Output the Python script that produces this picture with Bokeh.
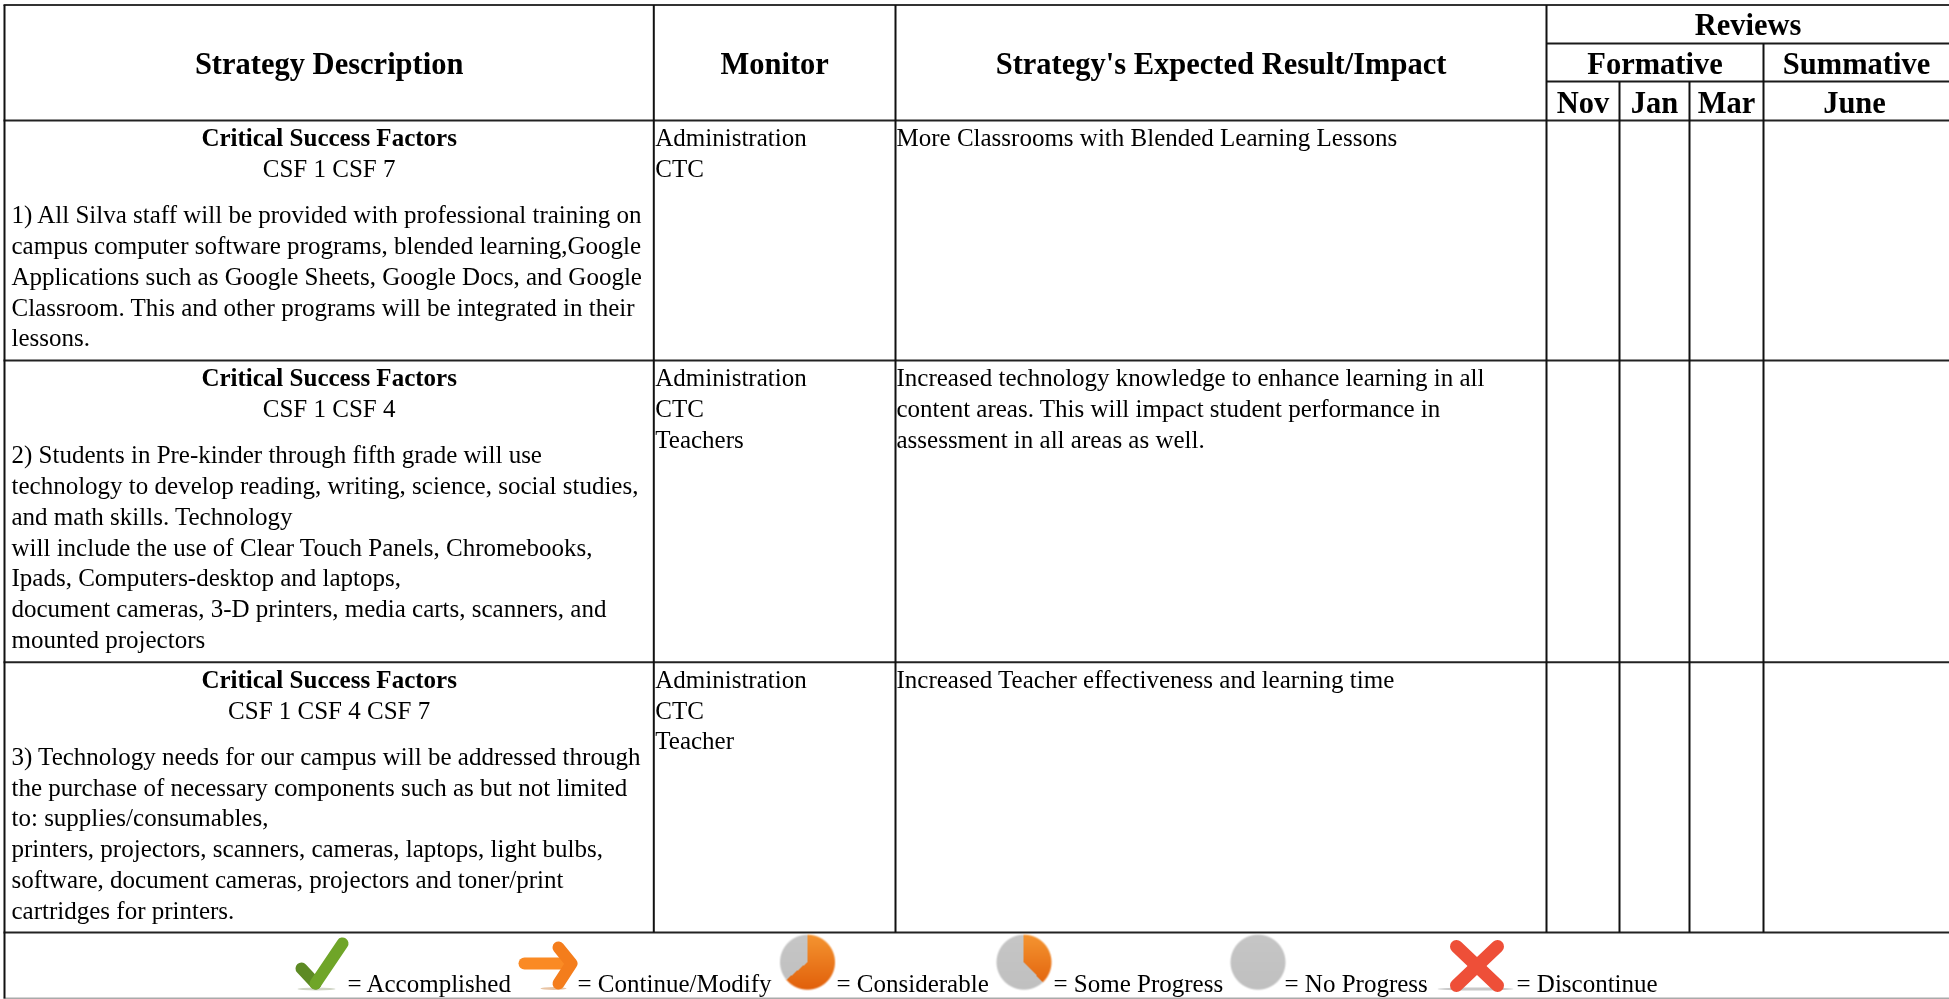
import numpy as np
from bokeh.plotting import figure
from bokeh.embed import file_html
from bokeh.resources import INLINE
from bokeh.core.properties import value

# ---- table content ----
header_main = ["Strategy Description", "Monitor", "Strategy's Expected Result/Impact"]
header_reviews = "Reviews"
header_groups = ["Formative", "Summative"]
header_months = ["Nov", "Jan", "Mar", "June"]
csf_title = "Critical Success Factors"
csf_codes = ["CSF 1 CSF 7", "CSF 1 CSF 4", "CSF 1 CSF 4 CSF 7"]
strategies = [
    ["1) All Silva staff will be provided with professional training on",
     "campus computer software programs, blended learning,Google",
     "Applications such as Google Sheets, Google Docs, and Google",
     "Classroom. This and other programs will be integrated in their",
     "lessons."],
    ["2) Students in Pre-kinder through fifth grade will use",
     "technology to develop reading, writing, science, social studies,",
     "and math skills. Technology",
     "will include the use of Clear Touch Panels, Chromebooks,",
     "Ipads, Computers-desktop and laptops,",
     "document cameras, 3-D printers, media carts, scanners, and",
     "mounted projectors"],
    ["3) Technology needs for our campus will be addressed through",
     "the purchase of necessary components such as but not limited",
     "to: supplies/consumables,",
     "printers, projectors, scanners, cameras, laptops, light bulbs,",
     "software, document cameras, projectors and toner/print",
     "cartridges for printers."],
]
monitors = [["Administration", "CTC"],
            ["Administration", "CTC", "Teachers"],
            ["Administration", "CTC", "Teacher"]]
results = [["More Classrooms with Blended Learning Lessons"],
           ["Increased technology knowledge to enhance learning in all",
            "content areas. This will impact student performance in",
            "assessment in all areas as well."],
           ["Increased Teacher effectiveness and learning time"]]
legend_labels = ["= Accomplished", "= Continue/Modify", "= Considerable",
                 "= Some Progress", "= No Progress", "= Discontinue"]

# ---- layout (pixels) ----
W, H = 1949, 999
XL, X2, X3, XN, XJ, XM, XS, XR = 4, 653.3, 895, 1546, 1619, 1689, 1763, 1949
YT, YA, YB, YH = 4.5, 43, 81, 120
ROWS = [120, 360, 661.7, 932]
LINE = 30.8
FONT = "Liberation Serif"
BODY = 25
H1 = 30.5

def Y(v):
    return H - v

p = figure(width=W, height=H, x_range=(0, W), y_range=(0, H), output_backend="svg",
           toolbar_location=None, x_axis_type=None, y_axis_type=None, min_border=0,
           outline_line_color=None, styles={"position": "fixed", "left": "0px", "top": "0px"})
p.grid.visible = False

def hline(x0, x1, y, w=2, c="#1a1a1a"):
    p.segment([x0], [Y(y)], [x1], [Y(y)], line_width=w, line_color=c)

def vline(x, y0, y1, w=2, c="#111111"):
    p.segment([x], [Y(y0)], [x], [Y(y1)], line_width=w, line_color=c)

def txt(x, y, s, size=BODY, align="left", bold=False):
    # the renderer sets alphabetic text about 0.3 em below the anchor
    p.text([x], [Y(y - 0.3 * size)], text=[s], text_font=value(FONT), text_font_size=f"{size}px",
           text_align=align, text_baseline="alphabetic", text_color="#000000",
           text_font_style="bold" if bold else "normal")

# grid
hline(XL - 1, XR, YT, 2, "#333333")
hline(XN, XR, YA)
hline(XN, XR, YB)
for r in ROWS:
    hline(XL - 1, XR, r, 2, "#222222")
hline(XL - 1, XR, 998, 2, "#aaaaaa")
vline(XL, YT, 998)
for x in (X2, X3, XN):
    vline(x, YT, ROWS[-1])
vline(XS, YA, ROWS[-1])
for x in (XJ, XM):
    vline(x, YB, ROWS[-1])

# header
txt((XL + X2) / 2, 72.5, header_main[0], H1, "center", True)
txt((X2 + X3) / 2, 72.5, header_main[1], H1, "center", True)
txt((X3 + XN) / 2, 72.5, header_main[2], H1, "center", True)
txt((XN + XR) / 2, 34, header_reviews, H1, "center", True)
txt((XN + XS) / 2, 72.5, header_groups[0], H1, "center", True)
txt((XS + XR) / 2, 72.5, header_groups[1], H1, "center", True)
for s, a, b in zip(header_months, (XN, XJ, XM, XS), (XJ, XM, XS, XR)):
    txt((a + b) / 2 - (2 if s == "June" else 0), 111.7, s, H1, "center", True)

# rows
cx = (XL + X2) / 2
for i, top in enumerate(ROWS[:3]):
    base = top + 24.6
    txt(cx, base, csf_title, BODY, "center", True)
    txt(cx, base + 31, csf_codes[i], BODY, "center")
    for j, s in enumerate(strategies[i]):
        txt(XL + 7, base + 77 + j * LINE, s)
    for j, s in enumerate(monitors[i]):
        txt(X2 + 1.5, base + j * LINE, s)
    for j, s in enumerate(results[i]):
        txt(X3 + 1, base + j * LINE, s)

# legend labels
for s, x in zip(legend_labels, (347, 577, 836, 1053, 1284, 1516)):
    txt(x, 990, s)

# legend icons
def pie(cx, cy, start_frac, color_top, color_bot, r=28.5):
    """Pie with an orange share starting at 12 o'clock, clockwise."""
    x0, y0 = int(cx - r - 1), int(cy - r - 1)
    w, h = int(2 * r + 3), int(2 * r + 3)
    img = np.zeros((h, w), dtype=np.uint32)
    view = img.view(np.uint8).reshape((h, w, 4))
    for row in range(h):
        for c in range(w):
            py = y0 + (h - 1 - row) + 0.5
            px = x0 + c + 0.5
            d = np.hypot(px - cx, py - cy) / r
            a = np.clip((1 - d) * 14, 0, 1)
            ang = (np.arctan2(px - cx, -(py - cy)) % (2 * np.pi)) / (2 * np.pi)
            t = (py - (cy - r)) / (2 * r)
            if ang < start_frac:
                col = np.array(color_top) * (1 - t) + np.array(color_bot) * t
            else:
                col = np.array([198, 198, 198]) - 6 * t
            if py > 933:
                view[row, c] = [int(col[0]), int(col[1]), int(col[2]), int(a * 255)]
    p.image_rgba(image=[img], x=[x0], y=[Y(y0 + h)], dw=[w], dh=[h])

ORANGE_T, ORANGE_B = (245, 150, 50), (225, 95, 10)
pie(807, 961.7, 0.64, ORANGE_T, ORANGE_B)
pie(1023.5, 961.7, 0.38, ORANGE_T, ORANGE_B)
pie(1257.5, 961.7, 0.0, ORANGE_T, ORANGE_B)

def stroke(xs, ys, color, w):
    p.line(xs, [Y(v) for v in ys], line_color=color, line_width=w, line_cap="round", line_join="round")

# check
p.ellipse([316], [Y(988.5)], width=38, height=3, fill_color="#cfd4c4", line_color=None)
stroke([301, 315], [968, 983], "#5d8a24", 12)
stroke([315, 342], [983, 943], "#6fa528", 12)
# arrow
p.ellipse([553], [Y(988)], width=26, height=3, fill_color="#e8c4a4", line_color=None)
stroke([524, 570], [963, 963], "#fa8a24", 12)
stroke([558, 571, 558], [947, 963, 983], "#f47d1c", 12)
# cross
p.ellipse([1475], [Y(988.5)], width=76, height=3, fill_color="#c8c8c8", line_color=None)
stroke([1456, 1497], [946, 985], "#ee4f38", 13)
stroke([1497, 1456], [946, 985], "#ee4f38", 13)

open("out.html", "w").write(file_html(p, INLINE))
